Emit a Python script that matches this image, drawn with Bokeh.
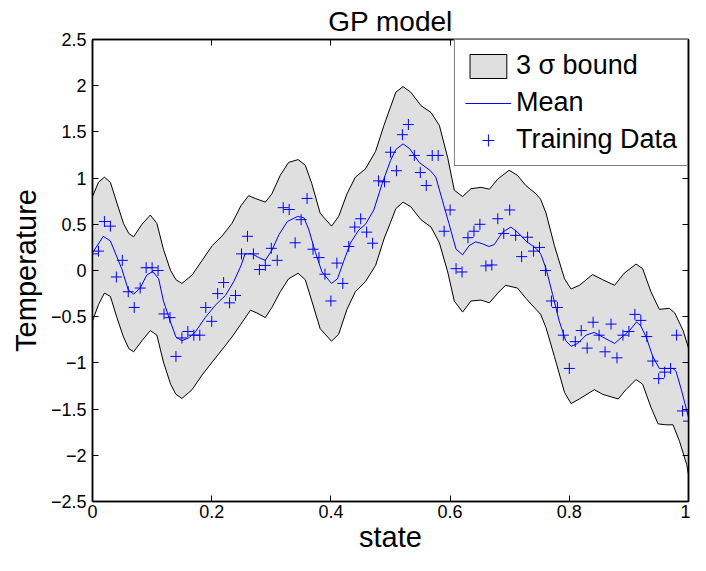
from bokeh.plotting import figure
from bokeh.models import (LinearAxis, FixedTicker, Legend, LegendItem, Range1d)
from bokeh.embed import file_html
from bokeh.resources import INLINE

FONT = "Liberation Sans"

# ---- data ----
mean_x = [0, 0.018, 0.030, 0.049, 0.060, 0.069, 0.080, 0.091, 0.101, 0.111, 0.119, 0.131,
          0.140, 0.150, 0.161, 0.172, 0.189, 0.206, 0.223, 0.237, 0.249, 0.256, 0.268, 0.279,
          0.290, 0.301, 0.313, 0.327, 0.344, 0.355, 0.363, 0.374, 0.385, 0.401, 0.411, 0.422,
          0.433, 0.447, 0.458, 0.472, 0.486, 0.500, 0.509, 0.521, 0.532, 0.548, 0.567, 0.576,
          0.587, 0.598, 0.610, 0.621, 0.632, 0.643, 0.654, 0.665, 0.674, 0.688, 0.702, 0.713,
          0.727, 0.744, 0.752, 0.761, 0.772, 0.783, 0.794, 0.803, 0.814, 0.828, 0.842, 0.856,
          0.876, 0.892, 0.901, 0.913, 0.920, 0.929, 0.940, 0.951, 0.962, 0.974, 0.979, 0.988, 1.0]
mean_y = [0.19, 0.37, 0.32, 0.02, -0.21, -0.256, -0.19, -0.05, -0.01, -0.09, -0.33, -0.56,
          -0.72, -0.76, -0.73, -0.67, -0.51, -0.376, -0.27, -0.12, 0.05, 0.18, 0.18, 0.14,
          0.11, 0.22, 0.39, 0.53, 0.585, 0.57, 0.44, 0.196, -0.016, -0.14, -0.09, 0.11,
          0.30, 0.44, 0.50, 0.655, 0.94, 1.19, 1.31, 1.37, 1.32, 1.17, 1.08, 1.01,
          0.76, 0.51, 0.23, 0.17, 0.27, 0.31, 0.29, 0.26, 0.28, 0.415, 0.47, 0.415,
          0.32, 0.24, 0.18, 0.02, -0.26, -0.545, -0.76, -0.82, -0.79, -0.70, -0.67, -0.72,
          -0.79, -0.70, -0.65, -0.556, -0.60, -0.72, -0.93, -1.06, -1.06, -1.06, -1.09, -1.29, -1.59]

upper_x = [0, 0.010, 0.020, 0.030, 0.041, 0.052, 0.061, 0.069, 0.083, 0.097, 0.108, 0.119,
           0.131, 0.140, 0.150, 0.167, 0.184, 0.201, 0.217, 0.234, 0.249, 0.262, 0.273, 0.290,
           0.301, 0.315, 0.329, 0.345, 0.357, 0.368, 0.382, 0.401, 0.413, 0.427, 0.441, 0.458,
           0.475, 0.489, 0.500, 0.509, 0.521, 0.534, 0.551, 0.568, 0.582, 0.596, 0.607, 0.621,
           0.635, 0.652, 0.666, 0.680, 0.699, 0.713, 0.727, 0.744, 0.752, 0.761, 0.775, 0.792,
           0.803, 0.817, 0.839, 0.856, 0.876, 0.892, 0.912, 0.923, 0.937, 0.951, 0.968, 0.977,
           0.991, 1.0]
upper_y = [0.80, 0.955, 1.01, 0.955, 0.73, 0.51, 0.40, 0.365, 0.50, 0.60, 0.51, 0.23,
           0.00, -0.10, -0.14, -0.05, 0.11, 0.27, 0.37, 0.51, 0.70, 0.81, 0.78, 0.74,
           0.83, 1.03, 1.17, 1.20, 1.14, 0.94, 0.62, 0.48, 0.585, 0.83, 1.01, 1.10,
           1.29, 1.57, 1.77, 1.93, 1.99, 1.93, 1.785, 1.71, 1.57, 1.22, 0.87, 0.80,
           0.885, 0.90, 0.88, 0.99, 1.085, 1.03, 0.92, 0.83, 0.77, 0.62, 0.27, -0.09,
           -0.20, -0.16, -0.044, -0.10, -0.16, -0.03, 0.07, 0.02, -0.23, -0.42, -0.41, -0.46,
           -0.65, -0.84]

lower_x = [0, 0.010, 0.020, 0.030, 0.041, 0.052, 0.061, 0.069, 0.083, 0.097, 0.108, 0.119,
           0.131, 0.140, 0.150, 0.167, 0.184, 0.201, 0.217, 0.234, 0.249, 0.265, 0.276, 0.290,
           0.301, 0.315, 0.329, 0.345, 0.357, 0.368, 0.382, 0.401, 0.413, 0.427, 0.441, 0.458,
           0.475, 0.489, 0.500, 0.509, 0.521, 0.534, 0.551, 0.568, 0.582, 0.596, 0.607, 0.621,
           0.635, 0.652, 0.666, 0.680, 0.693, 0.713, 0.727, 0.744, 0.752, 0.761, 0.775, 0.792,
           0.803, 0.817, 0.842, 0.856, 0.882, 0.895, 0.912, 0.923, 0.937, 0.949, 0.962, 0.974,
           0.985, 0.997, 1.0]
lower_y = [-0.545, -0.37, -0.245, -0.28, -0.51, -0.72, -0.845, -0.88, -0.76, -0.65, -0.70, -0.99,
           -1.23, -1.34, -1.385, -1.29, -1.13, -0.99, -0.86, -0.72, -0.58, -0.43, -0.46, -0.51,
           -0.40, -0.23, -0.09, -0.03, -0.10, -0.33, -0.63, -0.765, -0.69, -0.42, -0.23, -0.12,
           0.055, 0.34, 0.52, 0.67, 0.74, 0.69, 0.55, 0.47, 0.30, -0.016, -0.33, -0.45,
           -0.33, -0.32, -0.35, -0.245, -0.16, -0.19, -0.30, -0.42, -0.475, -0.62, -0.93, -1.32,
           -1.44, -1.39, -1.29, -1.34, -1.39, -1.29, -1.18, -1.23, -1.48, -1.66, -1.67, -1.67,
           -1.85, -2.10, -2.21]

train_x = [0.00, 0.01, 0.02, 0.03, 0.04, 0.05, 0.06, 0.07, 0.08, 0.09,
           0.10, 0.11, 0.12, 0.13, 0.14, 0.15, 0.16, 0.17, 0.18, 0.19,
           0.20, 0.21, 0.22, 0.23, 0.24, 0.25, 0.26, 0.27, 0.28, 0.29,
           0.30, 0.31, 0.32, 0.33, 0.34, 0.35, 0.36, 0.37, 0.38, 0.39,
           0.40, 0.41, 0.42, 0.43, 0.44, 0.45, 0.46, 0.47, 0.48, 0.49,
           0.50, 0.51, 0.52, 0.53, 0.54, 0.55, 0.56, 0.57, 0.58, 0.59,
           0.60, 0.61, 0.62, 0.63, 0.64, 0.65, 0.66, 0.67, 0.68, 0.69,
           0.70, 0.71, 0.72, 0.73, 0.74, 0.75, 0.76, 0.77, 0.78, 0.79,
           0.80, 0.81, 0.82, 0.83, 0.84, 0.85, 0.86, 0.87, 0.88, 0.89,
           0.90, 0.91, 0.92, 0.93, 0.94, 0.95, 0.96, 0.97, 0.98, 0.99, 1.00]
train_y = [0.18, 0.21, 0.53, 0.48, -0.07, 0.11, -0.23, -0.40, -0.19, 0.03,
           0.03, 0.00, -0.47, -0.51, -0.93, -0.73, -0.66, -0.70, -0.70, -0.40,
           -0.55, -0.25, -0.13, -0.35, -0.27, 0.18, 0.37, 0.18, 0.01, 0.055,
           0.24, 0.11, 0.68, 0.66, 0.30, 0.55, 0.78, 0.23, 0.14, -0.04,
           -0.33, 0.08, -0.14, 0.26, 0.47, 0.56, 0.415, 0.295, 0.97, 0.96,
           1.28, 1.08, 1.47, 1.58, 1.245, 1.06, 0.92, 1.245, 1.245, 0.425,
           0.655, 0.02, -0.016, 0.355, 0.425, 0.50, 0.05, 0.06, 0.56, 0.40,
           0.655, 0.38, 0.15, 0.36, 0.21, 0.25, 0.00, -0.33, -0.40, -0.70,
           -1.06, -0.77, -0.65, -0.84, -0.56, -0.70, -0.88, -0.58, -0.945, -0.70,
           -0.66, -0.475, -0.54, -0.715, -0.98, -1.17, -1.10, -1.06, -0.70, -1.52, -1.63]

x_ticks = [0, 0.2, 0.4, 0.6, 0.8, 1]
x_tick_labels = ["0", "0.2", "0.4", "0.6", "0.8", "1"]
y_ticks = [-2.5, -2, -1.5, -1, -0.5, 0, 0.5, 1, 1.5, 2, 2.5]
y_tick_labels = ["\u22122.5", "\u22122", "\u22121.5", "\u22121", "\u22120.5", "0",
                 "0.5", "1", "1.5", "2", "2.5"]

# ---- figure ----
p = figure(width=690, height=555, x_range=Range1d(0, 1), y_range=Range1d(-2.5, 2.5),
           output_backend="svg", toolbar_location=None, title="GP model",
           min_border_left=92, min_border_right=2, min_border_top=38, min_border_bottom=50,
           x_axis_label="state", y_axis_label="Temperature")
p.title.text_font = FONT
p.title.text_font_size = "28px"
p.title.text_font_style = "normal"
p.title.text_color = "black"
p.title.align = "center"
p.title.standoff = 6
p.grid.visible = False
p.outline_line_color = "black"
p.outline_line_width = 1.5
p.background_fill_color = "white"

band_xs = list(upper_x) + list(reversed(lower_x))
band_ys = list(upper_y) + list(reversed(lower_y))
band = p.patch(band_xs, band_ys, fill_color="#dfdfdf", line_color="black", line_width=1)
mean_r = p.line(mean_x, mean_y, line_color="blue", line_width=1)
pts = p.scatter(train_x, train_y, marker="cross", size=11, line_color="blue", line_width=1)


def style_axis(ax, ticks, labels, show_labels=True):
    ax.ticker = FixedTicker(ticks=ticks)
    ax.major_tick_in = 6
    ax.major_tick_out = 0
    ax.minor_tick_line_color = None
    ax.axis_line_width = 1.5
    ax.axis_line_color = "black"
    ax.major_tick_line_color = "black"
    ax.major_label_text_font = FONT
    if show_labels:
        ax.major_label_overrides = {t: l for t, l in zip(ticks, labels)}
        ax.major_label_text_font_size = "18px"
        ax.major_label_text_color = "black"
    else:
        # tick marks only (box axes); labels not drawn
        ax.major_label_text_font_size = "1px"
        ax.major_label_text_color = None
        ax.major_label_standoff = 0
    ax.axis_label_text_font = FONT
    ax.axis_label_text_font_size = "29px"
    ax.axis_label_text_font_style = "normal"
    ax.axis_label_text_color = "black"


style_axis(p.xaxis[0], x_ticks, x_tick_labels)
style_axis(p.yaxis[0], y_ticks, y_tick_labels)
p.xaxis[0].major_label_standoff = 3
p.xaxis[0].axis_label_standoff = 0
p.yaxis[0].major_label_standoff = 6
p.yaxis[0].axis_label_standoff = 6

top_ax = LinearAxis()
style_axis(top_ax, x_ticks, x_tick_labels, show_labels=False)
p.add_layout(top_ax, "above")
right_ax = LinearAxis()
style_axis(right_ax, y_ticks, y_tick_labels, show_labels=False)
p.add_layout(right_ax, "right")

legend = Legend(items=[LegendItem(label="3 \u03c3 bound", renderers=[band]),
                       LegendItem(label="Mean", renderers=[mean_r]),
                       LegendItem(label="Training Data", renderers=[pts])],
                location="top_right")
legend.label_text_font = FONT
legend.label_text_font_size = "27px"
legend.label_text_color = "black"
legend.glyph_width = 46
legend.glyph_height = 30
legend.label_height = 30
legend.spacing = 6
legend.padding = 10
legend.margin = 0
legend.label_standoff = 5
legend.border_line_color = "black"
legend.border_line_width = 1
legend.background_fill_color = "white"
legend.background_fill_alpha = 1.0
p.add_layout(legend)

open("out.html", "w").write(file_html(p, INLINE))
